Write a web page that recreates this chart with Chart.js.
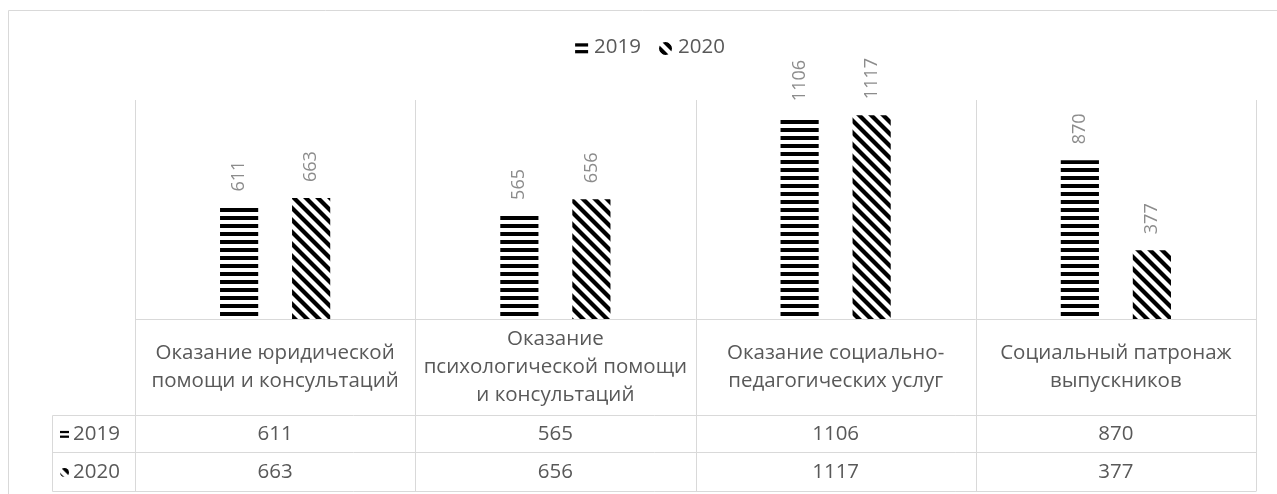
<!DOCTYPE html>
<html>
<head>
<meta charset="utf-8">
<script src="https://cdn.jsdelivr.net/npm/chart.js@4.4.0/dist/chart.umd.min.js"></script>
<style>
    html, body { margin: 0; padding: 0; background: #fff; }
    canvas { display: block; }
</style>
</head>
<body>
<canvas id="chart" width="1277" height="494"></canvas>
<script>
const categories = [
    ['Оказание юридической', 'помощи и консультаций'],
    ['Оказание', 'психологической помощи', 'и консультаций'],
    ['Оказание социально-', 'педагогических услуг'],
    ['Социальный патронаж', 'выпускников']
];
const seriesNames = ['2019', '2020'];
const values2019 = [611, 565, 1106, 870];
const values2020 = [663, 656, 1117, 377];

const COLORS = {
    text: '#595959',
    label: '#8c8c8c',
    line: '#d9d9d9',
};
const FONT = '"Open Sans", "Noto Sans", sans-serif';

const canvas = document.getElementById('chart');
const ctx = canvas.getContext('2d');

// excel-like pattern fills
function horizontalPattern() {
    const tile = document.createElement('canvas');
    tile.width = 8;
    tile.height = 8;
    const g = tile.getContext('2d');
    g.fillStyle = '#fff';
    g.fillRect(0, 0, 8, 8);
    g.fillStyle = '#000';
    g.fillRect(0, 0, 8, 4);
    return ctx.createPattern(tile, 'repeat');
}

function diagonalPattern() {
    const s = 12;
    const tile = document.createElement('canvas');
    tile.width = s;
    tile.height = s;
    const g = tile.getContext('2d');
    g.fillStyle = '#fff';
    g.fillRect(0, 0, s, s);
    g.strokeStyle = '#000';
    g.lineWidth = 4.2;
    for (let k = -1; k <= 1; k++) {
        g.beginPath();
        g.moveTo(-2, k * s - 2);
        g.lineTo(s + 2, s + k * s + 2);
        g.stroke();
    }
    return ctx.createPattern(tile, 'repeat');
}

const fills = [horizontalPattern(), diagonalPattern()];

// small legend key: two bars for 2019, striped disc for 2020
function drawKey(c, idx, x, y, size) {
    c.save();
    if (idx === 0) {
        const t = Math.max(2, size * 0.25);
        c.fillStyle = '#000';
        c.fillRect(x, y + size * 0.1, size, t);
        c.fillRect(x, y + size * 0.62, size, t);
    } else {
        c.beginPath();
        c.arc(x + size / 2, y + size / 2, size / 2, 0, Math.PI * 2);
        c.clip();
        c.translate(x + size * 0.46, y);
        c.fillStyle = fills[1];
        c.fillRect(-size, -size, size * 3, size * 3);
    }
    c.restore();
}

const tablePlugin = {
    id: 'excelTable',
    afterDraw(chart) {
        const c = chart.ctx;
        const area = chart.chartArea;
        const xs = chart.scales.x;
        const n = categories.length;
        const colW = (area.right - area.left) / n;
        const headerBottom = 415.5;
        const rowBottoms = [452.5, 491.5];
        const leftCol = 52.5;

        c.save();
        c.strokeStyle = COLORS.line;
        c.lineWidth = 1;

        // outer chart frame
        c.beginPath();
        c.moveTo(8.5, chart.height);
        c.lineTo(8.5, 10.5);
        c.lineTo(chart.width, 10.5);
        c.stroke();

        // category separators
        c.beginPath();
        for (let i = 0; i <= n; i++) {
            const x = Math.round(area.left + i * colW) + 0.5;
            c.moveTo(x, area.top);
            c.lineTo(x, rowBottoms[1]);
        }
        // baseline / header top
        c.moveTo(area.left, Math.round(area.bottom) + 0.5);
        c.lineTo(area.right, Math.round(area.bottom) + 0.5);
        // table rows
        [headerBottom, rowBottoms[0], rowBottoms[1]].forEach(y => {
            c.moveTo(leftCol, y);
            c.lineTo(area.right, y);
        });
        c.moveTo(leftCol, headerBottom);
        c.lineTo(leftCol, rowBottoms[1]);
        c.stroke();

        // category labels in header row
        c.fillStyle = COLORS.text;
        c.font = `20.5px ${FONT}`;
        c.textAlign = 'center';
        c.textBaseline = 'middle';
        const headerMid = (area.bottom + headerBottom) / 2;
        categories.forEach((lines, i) => {
            const cx = xs.getPixelForValue(i);
            lines.forEach((line, j) => {
                c.fillText(line, cx, headerMid + (j - (lines.length - 1) / 2) * 28);
            });
        });

        // value rows
        const rows = [values2019, values2020];
        const rowTops = [headerBottom, rowBottoms[0]];
        rows.forEach((vals, r) => {
            const cy = (rowTops[r] + rowBottoms[r]) / 2;
            c.textAlign = 'center';
            c.fillStyle = COLORS.text;
            vals.forEach((v, i) => c.fillText(String(v), xs.getPixelForValue(i), cy));
            drawKey(c, r, 60, cy - 4, 9);
            c.textAlign = 'left';
            c.fillStyle = COLORS.text;
            c.fillText(seriesNames[r], 73, cy);
        });

        // legend on top
        const keyS = 13, gap = 6, itemGap = 18;
        const widths = seriesNames.map(s => c.measureText(s).width);
        const total = widths.reduce((a, w) => a + keyS + gap + w, 0) + itemGap;
        let lx = 650 - total / 2;
        const ly = 47;
        seriesNames.forEach((s, i) => {
            drawKey(c, i, lx, ly - 5, keyS);
            c.textAlign = 'left';
            c.fillStyle = COLORS.text;
            c.fillText(s, lx + keyS + gap, ly);
            lx += keyS + gap + widths[i] + itemGap;
        });

        // rotated data labels above bars
        c.fillStyle = COLORS.label;
        c.font = `18px ${FONT}`;
        c.textAlign = 'left';
        c.textBaseline = 'middle';
        chart.data.datasets.forEach((ds, d) => {
            const meta = chart.getDatasetMeta(d);
            meta.data.forEach((bar, i) => {
                c.save();
                c.translate(bar.x, bar.y - 16);
                c.rotate(-Math.PI / 2);
                c.fillText(String(ds.data[i]), 0, 0);
                c.restore();
            });
        });
        c.restore();
    }
};

new Chart(ctx, {
    type: 'bar',
    data: {
        labels: categories.map(l => l.join(' ')),
        datasets: [
            {
                label: seriesNames[0],
                data: values2019,
                backgroundColor: fills[0],
                borderWidth: 0,
                categoryPercentage: 0.514,
                barPercentage: 0.53
            },
            {
                label: seriesNames[1],
                data: values2020,
                backgroundColor: fills[1],
                borderWidth: 0,
                categoryPercentage: 0.514,
                barPercentage: 0.53
            }
        ]
    },
    options: {
        responsive: false,
        animation: false,
        devicePixelRatio: 1,
        layout: {
            padding: { left: 135, right: 21, top: 100, bottom: 175 }
        },
        plugins: {
            legend: { display: false },
            tooltip: { enabled: false }
        },
        scales: {
            x: { display: false },
            y: { display: false, min: 0, max: 1200 }
        }
    },
    plugins: [tablePlugin]
});
</script>
</body>
</html>
